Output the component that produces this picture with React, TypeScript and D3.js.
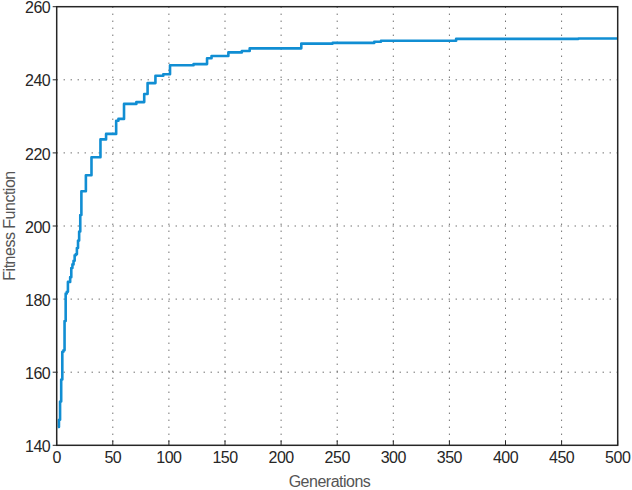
import React, { useEffect, useRef } from 'react';
import * as d3 from 'd3';

// generation at which the best fitness changes, and the new best value
const generations = [
  1, 2, 3, 4, 5, 6, 7, 8, 9, 10, 12, 13, 14, 15, 16, 17, 18, 19, 20, 21, 22,
  26, 31, 39, 44, 53, 55, 60, 71, 78, 81, 88, 95, 101, 122, 134, 138,
  153, 165, 172, 218, 246, 283, 289, 356, 465, 500,
];
const bestFitness = [
  145, 147, 152, 158, 165.6, 166, 174, 181.5, 182, 184.7, 186, 188.5, 189.5, 190.5, 192, 192.3, 194, 196, 198.5, 203, 209.5,
  213.9, 218.8, 223.7, 225.2, 228.8, 229.3, 233.4, 233.9, 236.1, 239.1, 241.1, 241.5, 244.0, 244.3, 245.9, 246.5,
  247.5, 247.9, 248.6, 249.9, 250.1, 250.4, 250.7, 251.2, 251.3, 251.3,
];

const xTicks = [0, 50, 100, 150, 200, 250, 300, 350, 400, 450, 500];
const yTicks = [140, 160, 180, 200, 220, 240, 260];

const W = 632;
const H = 490;
const left = 56.7;
const right = 617.7;
const top = 6.7;
const bottom = 445.3;
const font = 'Liberation Sans, Arial, Helvetica, sans-serif';

const App: React.FC = () => {
  const svgRef = useRef<SVGSVGElement>(null);

  useEffect(() => {
    if (!svgRef.current) return;
    const svg = d3.select(svgRef.current);
    svg.selectAll('*').remove();

    const x = d3.scaleLinear().domain([0, 500]).range([left, right]);
    const y = d3.scaleLinear().domain([140, 260]).range([bottom, top]);

    // Grid
    const grid = svg.append('g');
    grid.selectAll('line.vx')
      .data(xTicks.slice(1, -1))
      .enter()
      .append('line')
      .attr('x1', d => x(d)).attr('x2', d => x(d))
      .attr('y1', top).attr('y2', bottom)
      .attr('stroke', '#333').attr('stroke-width', 1)
      .attr('stroke-dasharray', '1 6');
    grid.selectAll('line.hy')
      .data(yTicks.slice(1, -1))
      .enter()
      .append('line')
      .attr('x1', left).attr('x2', right)
      .attr('y1', d => y(d)).attr('y2', d => y(d))
      .attr('stroke', '#333').attr('stroke-width', 1)
      .attr('stroke-dasharray', '1 6');

    // Fitness curve
    const data = generations.map((g, i) => ({ g, v: bestFitness[i] }));
    const line = d3.line<{ g: number; v: number }>()
      .x(d => x(d.g))
      .y(d => y(d.v))
      .curve(d3.curveStepAfter);
    svg.append('path')
      .datum(data)
      .attr('fill', 'none')
      .attr('stroke', '#118ed3')
      .attr('stroke-width', 2.6)
      .attr('stroke-linejoin', 'round')
      .attr('d', line);

    // Box
    svg.append('rect')
      .attr('x', left).attr('y', top)
      .attr('width', right - left).attr('height', bottom - top)
      .attr('fill', 'none')
      .attr('stroke', '#262626').attr('stroke-width', 1.5);

    // Ticks
    svg.selectAll('line.xt')
      .data(xTicks)
      .enter()
      .append('line')
      .attr('x1', d => x(d)).attr('x2', d => x(d))
      .attr('y1', bottom).attr('y2', bottom - 5)
      .attr('stroke', '#262626').attr('stroke-width', 1);
    svg.selectAll('line.yt')
      .data(yTicks)
      .enter()
      .append('line')
      .attr('x1', left - 4).attr('x2', left)
      .attr('y1', d => y(d)).attr('y2', d => y(d))
      .attr('stroke', '#262626').attr('stroke-width', 1);

    // Tick labels
    svg.selectAll('text.xl')
      .data(xTicks)
      .enter()
      .append('text')
      .attr('x', d => x(d))
      .attr('y', 463.3)
      .attr('text-anchor', 'middle')
      .attr('font-family', font)
      .attr('font-size', 16)
      .attr('letter-spacing', -0.5)
      .attr('fill', '#262626')
      .text(d => d);
    svg.selectAll('text.yl')
      .data(yTicks)
      .enter()
      .append('text')
      .attr('x', left - 6.5)
      .attr('y', d => y(d) + 6.6)
      .attr('text-anchor', 'end')
      .attr('font-family', font)
      .attr('font-size', 16)
      .attr('letter-spacing', -0.5)
      .attr('fill', '#262626')
      .text(d => d);

    // Axis titles
    svg.append('text')
      .attr('x', 329.5)
      .attr('y', 486.7)
      .attr('text-anchor', 'middle')
      .attr('font-family', font)
      .attr('font-size', 16)
      .attr('letter-spacing', -0.5)
      .attr('fill', '#555')
      .text('Generations');
    svg.append('text')
      .attr('transform', `translate(15,${(top + bottom) / 2}) rotate(-90)`)
      .attr('text-anchor', 'middle')
      .attr('font-family', font)
      .attr('font-size', 16)
      .attr('letter-spacing', -0.5)
      .attr('fill', '#555')
      .text('Fitness Function');
  }, []);

  return (
    <svg
      ref={svgRef}
      width={W}
      height={H}
      style={{ position: 'absolute', left: 0, top: 0, background: '#fff' }}
    />
  );
};

export default App;
